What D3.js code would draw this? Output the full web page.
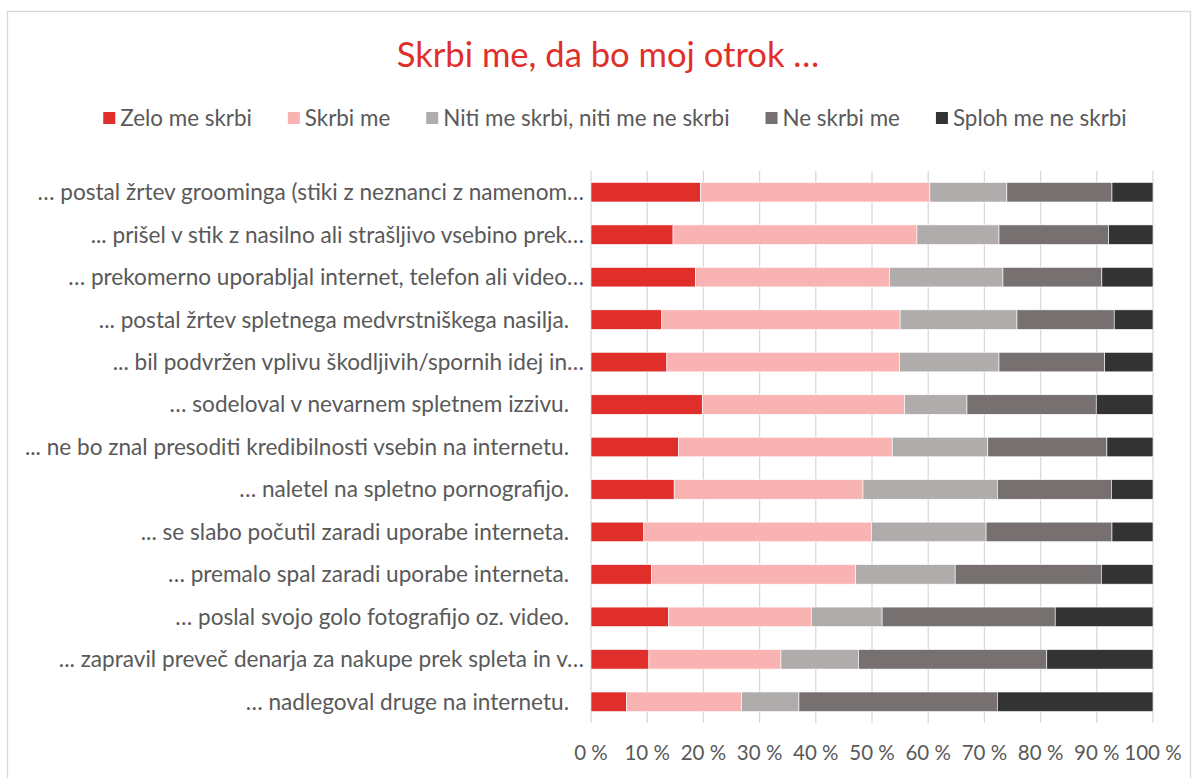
<!DOCTYPE html>
<html>
<head>
<meta charset="utf-8">
<script src="https://cdn.jsdelivr.net/npm/d3@7"></script>
<style>
  html, body { margin: 0; padding: 0; background: #fff; }
  svg { display: block; }
  text { font-family: Lato, "Open Sans", sans-serif; }
</style>
</head>
<body>
<svg id="chart" width="1198" height="778"></svg>
<script>
const title = "Skrbi me, da bo moj otrok …";
const categories = [
  "… postal žrtev groominga (stiki z neznanci z namenom…",
  "... prišel v stik z nasilno ali strašljivo vsebino prek…",
  "… prekomerno uporabljal internet, telefon ali video…",
  "... postal žrtev spletnega medvrstniškega nasilja.",
  "... bil podvržen vplivu škodljivih/spornih idej in…",
  "… sodeloval v nevarnem spletnem izzivu.",
  "... ne bo znal presoditi kredibilnosti vsebin na internetu.",
  "… naletel na spletno pornografijo.",
  "... se slabo počutil zaradi uporabe interneta.",
  "… premalo spal zaradi uporabe interneta.",
  "… poslal svojo golo fotografijo oz. video.",
  "... zapravil preveč denarja za nakupe prek spleta in v…",
  "… nadlegoval druge na internetu."
];
const seriesNames = ["Zelo me skrbi", "Skrbi me", "Niti me skrbi, niti me ne skrbi", "Ne skrbi me", "Sploh me ne skrbi"];
const zeloMeSkrbi   = [19.5, 14.6, 18.6, 12.6, 13.5, 19.8, 15.6, 14.8,  9.4, 10.8, 13.8, 10.3,  6.3];
const skrbiMe       = [40.8, 43.4, 34.5, 42.4, 41.4, 36.0, 38.0, 33.6, 40.5, 36.3, 25.4, 23.5, 20.5];
const nitiNiti      = [13.7, 14.6, 20.2, 20.8, 17.7, 11.1, 17.0, 23.9, 20.4, 17.7, 12.6, 13.8, 10.2];
const neSkrbiMe     = [18.7, 19.5, 17.6, 17.3, 18.8, 23.0, 21.2, 20.3, 22.4, 26.0, 30.8, 33.5, 35.3];
const splohNeSkrbi  = [ 7.3,  7.9,  9.1,  6.9,  8.6, 10.1,  8.2,  7.4,  7.3,  9.2, 17.4, 18.9, 27.7];
const tickValues = [0, 10, 20, 30, 40, 50, 60, 70, 80, 90, 100];
const tickLabels = ["0 %", "10 %", "20 %", "30 %", "40 %", "50 %", "60 %", "70 %", "80 %", "90 %", "100 %"];
const colors = ["#E02F2A", "#F9B3B3", "#AFACAB", "#767170", "#333333"];

const svg = d3.select("#chart");
const W = 1198, H = 778;

// outer chart border
svg.append("rect").attr("x", 7.5).attr("y", 11.5).attr("width", W - 15).attr("height", H + 20)
  .attr("fill", "#fff").attr("stroke", "#D9D9D9").attr("stroke-width", 1.3);

const x = d3.scaleLinear().domain([0, 100]).range([591, 1153]);
const y = d3.scaleBand().domain(categories).range([171, 723]).paddingInner(0.54).paddingOuter(0.27);

// title
svg.append("text").attr("x", 608).attr("y", 67).attr("text-anchor", "middle")
  .attr("fill", "#E02F2A").attr("font-size", 34.6).text(title);

// gridlines
svg.append("g").selectAll("line").data(tickValues).join("line")
  .attr("x1", d => x(d)).attr("x2", d => x(d))
  .attr("y1", 171).attr("y2", 723)
  .attr("stroke", "#D9D9D9").attr("stroke-width", 1.3);

// stacked data
const rows = categories.map((c, i) => ({
  cat: c,
  v: [zeloMeSkrbi[i], skrbiMe[i], nitiNiti[i], neSkrbiMe[i], splohNeSkrbi[i]]
}));
const keys = [0, 1, 2, 3, 4];
const stack = d3.stack().keys(keys).value((d, k) => d.v[k]);
const stacked = stack(rows);

svg.append("g").selectAll("g").data(stacked).join("g")
  .attr("fill", (d, i) => colors[i])
  .selectAll("rect").data(d => d).join("rect")
  .attr("x", d => x(d[0]))
  .attr("width", d => Math.max(0, x(Math.min(100, d[1])) - x(d[0])))
  .attr("y", d => y(d.data.cat))
  .attr("height", y.bandwidth())
  .attr("stroke", "#fff").attr("stroke-width", 0.6);

// category labels
svg.append("g").selectAll("text").data(categories).join("text")
  .attr("x", d => d.endsWith("…") ? 584 : 569)
  .attr("y", d => y(d) + y.bandwidth() / 2)
  .attr("dy", "0.35em")
  .attr("text-anchor", "end")
  .attr("fill", "#595959").attr("font-size", 22.6)
  .text(d => d);

// x axis labels
svg.append("g").selectAll("text").data(tickValues).join("text")
  .attr("x", d => x(d)).attr("y", 753).attr("dy", "0.35em")
  .attr("text-anchor", "middle").attr("fill", "#595959").attr("font-size", 20.5)
  .text((d, i) => tickLabels[i]);

// legend
const legend = svg.append("g");
let lx = 0;
seriesNames.forEach((n, i) => {
  const g = legend.append("g");
  g.append("rect").attr("x", 0).attr("y", -6).attr("width", 12).attr("height", 12).attr("fill", colors[i]);
  const t = g.append("text").attr("x", 17).attr("y", 0).attr("dy", "0.35em")
    .attr("fill", "#595959").attr("font-size", 22.4).text(n);
  const w = 17 + t.node().getComputedTextLength();
  g.attr("transform", `translate(${lx},0)`);
  lx += w + 36;
});
const totalW = lx - 36;
legend.attr("transform", `translate(${(105 + 1125) / 2 - totalW / 2},118)`);
</script>
</body>
</html>
